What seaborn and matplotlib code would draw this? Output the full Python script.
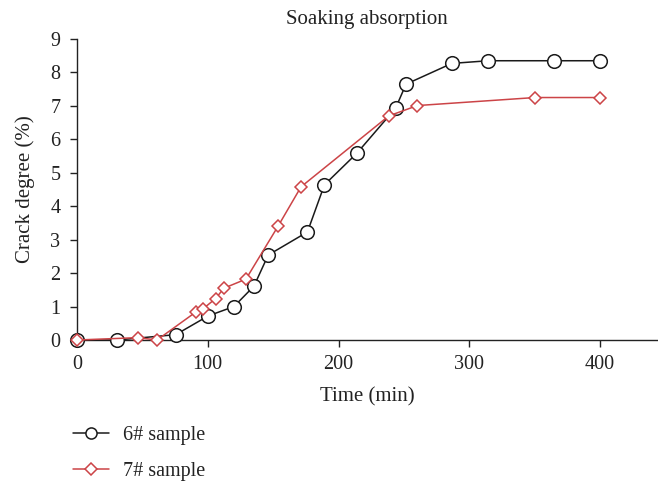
import matplotlib
matplotlib.use("Agg")
import matplotlib.pyplot as plt
from matplotlib.lines import Line2D
import seaborn as sns
import pandas as pd

sns.set_theme(style="ticks")
plt.rcParams['font.family'] = ['Liberation Serif', 'DejaVu Serif']

t6 = [0, 30.5, 75.5, 100.3, 120, 135.3, 146.2, 176.2, 189.2, 213.9, 243.6, 251.6, 286.6, 314.4, 364.6, 400]
v6 = [0, 0, 0.16, 0.72, 1.0, 1.61, 2.54, 3.23, 4.64, 5.58, 6.93, 7.65, 8.27, 8.35, 8.35, 8.35]
t7 = [0, 46.4, 61.2, 91, 96.6, 106, 112.4, 129.2, 154, 171.3, 238.4, 260.3, 350.3, 400]
v7 = [0, 0.07, 0, 0.84, 0.94, 1.24, 1.55, 1.82, 3.42, 4.58, 6.7, 7.01, 7.25, 7.25]
labels = ["6# sample", "7# sample"]
title = "Soaking absorption"

df6 = pd.DataFrame({"t": t6, "v": v6})
df7 = pd.DataFrame({"t": t7, "v": v7})

fig = plt.figure(figsize=(6.58, 4.83), dpi=100)
ax = fig.add_axes([77/658, 1-340/483, (657-77)/658, (340-39)/483])

c6 = "#1a1a1a"
c7 = "#cc4447"
tc = "#222222"
sns.lineplot(data=df6, x="t", y="v", ax=ax, color=c6, lw=1.1, marker="o",
             markersize=9.8, markerfacecolor="white", markeredgecolor=c6,
             markeredgewidth=1.1, clip_on=False, zorder=3, legend=False)
sns.lineplot(data=df7, x="t", y="v", ax=ax, color=c7, lw=1.1, marker="D",
             markersize=6.5, markerfacecolor="white", markeredgecolor=c7,
             markeredgewidth=1.1, clip_on=False, zorder=4, legend=False)

ax.set_xlim(0, 443.5)
ax.set_ylim(0, 9)
ax.set_xticks([0, 100, 200, 300, 400])
ax.set_yticks(range(0, 10))
sns.despine(ax=ax)
for s in ["left", "bottom"]:
    ax.spines[s].set_color(tc)
    ax.spines[s].set_linewidth(1.0)
ax.tick_params(axis="both", direction="out", length=5, width=1, colors=tc,
               labelsize=14.5, labelcolor=tc)
ax.tick_params(axis="y", pad=7)
ax.tick_params(axis="x", pad=6)
ax.set_xlabel("Time (min)", fontsize=15, color=tc, labelpad=9)
ax.set_ylabel("Crack degree (%)", fontsize=15, color=tc, labelpad=11)
ax.set_title(title, fontsize=15, color=tc, pad=11)

handles = [
    Line2D([], [], color=c6, lw=1.1, marker="o", markersize=8, markerfacecolor="white",
           markeredgecolor=c6, markeredgewidth=1.1),
    Line2D([], [], color=c7, lw=1.1, marker="D", markersize=6, markerfacecolor="white",
           markeredgecolor=c7, markeredgewidth=1.1),
]
leg = fig.legend(handles, labels, loc="upper left", bbox_to_anchor=(55/658, 1-408/483),
                 frameon=False, fontsize=14.5, handlelength=1.8, labelspacing=0.85,
                 handletextpad=0.7)
for txt in leg.get_texts():
    txt.set_color(tc)

fig.savefig("out.png", dpi=100)
